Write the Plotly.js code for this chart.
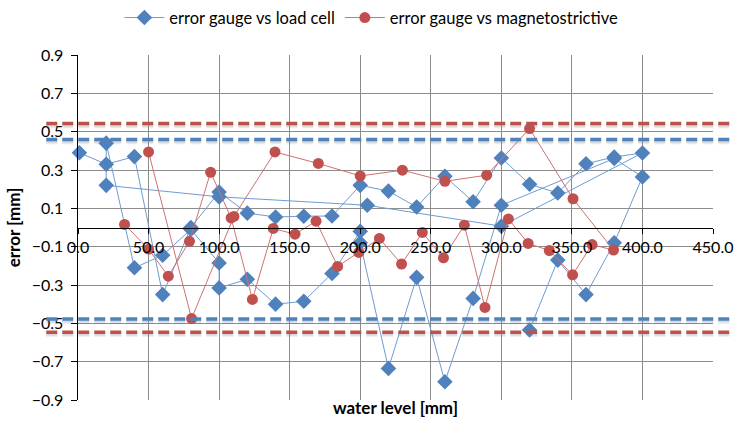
<!DOCTYPE html>
<html>
<head>
<meta charset="utf-8">
<script src="https://cdn.plot.ly/plotly-3.0.1.min.js"></script>
<style>
html,body{margin:0;padding:0;background:#fff;}
#chart{width:734px;height:424px;}
</style>
</head>
<body>
<div id="chart"></div>
<script>
var seriesNames = ["error gauge vs load cell", "error gauge vs magnetostrictive"];

var loadCellLevel = [1, 20, 40, 60, 80, 100, 120, 140, 160, 180, 200, 220, 240, 260, 280, 300, 320, 340, 360, 380, 400,
  300, 205, 100, 20,
  20, 40, 60, 80, 100, 100, 120, 140, 160, 180, 200, 200, 220, 240, 260, 280, 300, 380, 400, 380, 360, 340, 320];
var loadCellError = [0.39, 0.33, 0.37, -0.35, 0.0, 0.185, 0.075, 0.055, 0.059, 0.06, 0.22, 0.19, 0.107, 0.267, 0.134, 0.363, 0.226, 0.18, 0.333, 0.368, 0.389,
  0.007, 0.116, 0.16, 0.22,
  0.44, -0.21, -0.145, -0.01, -0.185, -0.315, -0.27, -0.40, -0.385, -0.24, -0.02, -0.08, -0.735, -0.26, -0.805, -0.37, 0.116, 0.36, 0.264, -0.08, -0.35, -0.17, -0.535];

var magLevel = [33, 50, 64, 79, 94, 108.5, 123.6, 138.4, 153.8, 168.7, 184, 199, 213.6, 229.3, 244, 259, 273.8, 288.4, 305, 319, 334, 350.5, 364.3, 379.5,
  350.8, 320, 289.6, 260, 229.9, 200, 170.3, 139.6, 110.5, 80.5, 50];
var magError = [0.016, -0.113, -0.254, -0.072, 0.288, 0.05, -0.375, -0.005, -0.035, 0.033, -0.203, -0.13, -0.057, -0.191, -0.026, -0.158, 0.012, -0.417, 0.045, -0.083, -0.12, -0.247, -0.089, -0.118,
  0.15, 0.516, 0.273, 0.241, 0.299, 0.269, 0.334, 0.394, 0.058, -0.475, 0.394];

// limit lines (error bands)
var loadCellLimits = [0.459, -0.478];
var magLimits = [0.542, -0.546];

var xTickVals = [0, 50, 100, 150, 200, 250, 300, 350, 400, 450];
var yTickVals = [-0.9, -0.7, -0.5, -0.3, -0.1, 0.1, 0.3, 0.5, 0.7, 0.9];

var BLUE = "#4F81BD", RED = "#C0504D";
var FONT = "Lato, 'Open Sans', sans-serif";

var traces = [
  {x: loadCellLevel, y: loadCellError, name: seriesNames[0], type: "scatter", mode: "lines+markers", cliponaxis: false,
   line: {color: "#6f9bd1", width: 1}, marker: {symbol: "diamond", size: 12, color: BLUE}},
  {x: magLevel, y: magError, name: seriesNames[1], type: "scatter", mode: "lines+markers", cliponaxis: false,
   line: {color: "#d0716f", width: 1}, marker: {symbol: "circle", size: 11, color: RED}},
  // invisible trace that activates the x-axis drawn through y = 0
  {x: [0, 450], y: [0, 0], xaxis: "x2", yaxis: "y", mode: "lines", line: {width: 0, color: "rgba(0,0,0,0)"},
   showlegend: false, hoverinfo: "skip"}
];

var shapes = [];
[loadCellLimits, magLimits].forEach(function(arr, k){
  var c = k === 0 ? BLUE : RED;
  arr.forEach(function(v){
    shapes.push({type: "line", xref: "paper", yref: "y", x0: -0.05, x1: 1.035, y0: v - 0.014, y1: v - 0.014,
      line: {color: "rgba(120,120,120,0.16)", width: 4, dash: "11px,5px"}, layer: "above"});
    shapes.push({type: "line", xref: "paper", yref: "y", x0: -0.05, x1: 1.035, y0: v - 0.009, y1: v - 0.009,
      line: {color: "rgba(120,120,120,0.14)", width: 3, dash: "11px,5px"}, layer: "above"});
    shapes.push({type: "line", xref: "paper", yref: "y", x0: -0.05, x1: 1.03, y0: v, y1: v,
      line: {color: c, width: 3.5, dash: "11px,5px"}, layer: "above"});
  });
});

var layout = {
  width: 734, height: 424,
  margin: {l: 78, r: 21, t: 55, b: 24, autoexpand: false},
  paper_bgcolor: "#fff", plot_bgcolor: "#fff",
  font: {family: FONT, size: 16, color: "#000"},
  showlegend: true,
  legend: {orientation: "h", x: 0.462, xanchor: "center", xref: "paper", yref: "container", y: 0.958, yanchor: "middle",
    font: {family: FONT, size: 16.5, color: "#000"}, itemwidth: 40},
  xaxis: {range: [0, 450], tickvals: xTickVals, showticklabels: false, ticks: "",
    showgrid: true, gridcolor: "#8c8c8c", gridwidth: 1, zeroline: false, showline: false,
    title: {text: "<b>water level [mm]</b>", font: {family: FONT, size: 17}, standoff: 2}},
  xaxis2: {range: [0, 450], overlaying: "x", anchor: "free", position: 0.5, side: "bottom",
    tickvals: xTickVals, tickformat: ".1f", ticks: "outside", ticklen: 5, tickcolor: "#000",
    showgrid: false, zeroline: false, showline: true, linecolor: "#000", linewidth: 1.5,
    tickfont: {family: FONT, size: 16}},
  yaxis: {range: [-0.9, 0.9], tickvals: yTickVals, tickformat: ".1f", ticks: "outside", ticklen: 6,
    tickcolor: "#000", showgrid: true, gridcolor: "#8c8c8c", gridwidth: 1, zeroline: false,
    showline: true, linecolor: "#000", linewidth: 1.5, ticklabelstandoff: 4,
    tickfont: {family: FONT, size: 16},
    title: {text: "<b>error [mm]</b>", font: {family: FONT, size: 17}, standoff: 6}},
  shapes: shapes
};

Plotly.newPlot("chart", traces, layout, {staticPlot: true, displayModeBar: false});
</script>
</body>
</html>
